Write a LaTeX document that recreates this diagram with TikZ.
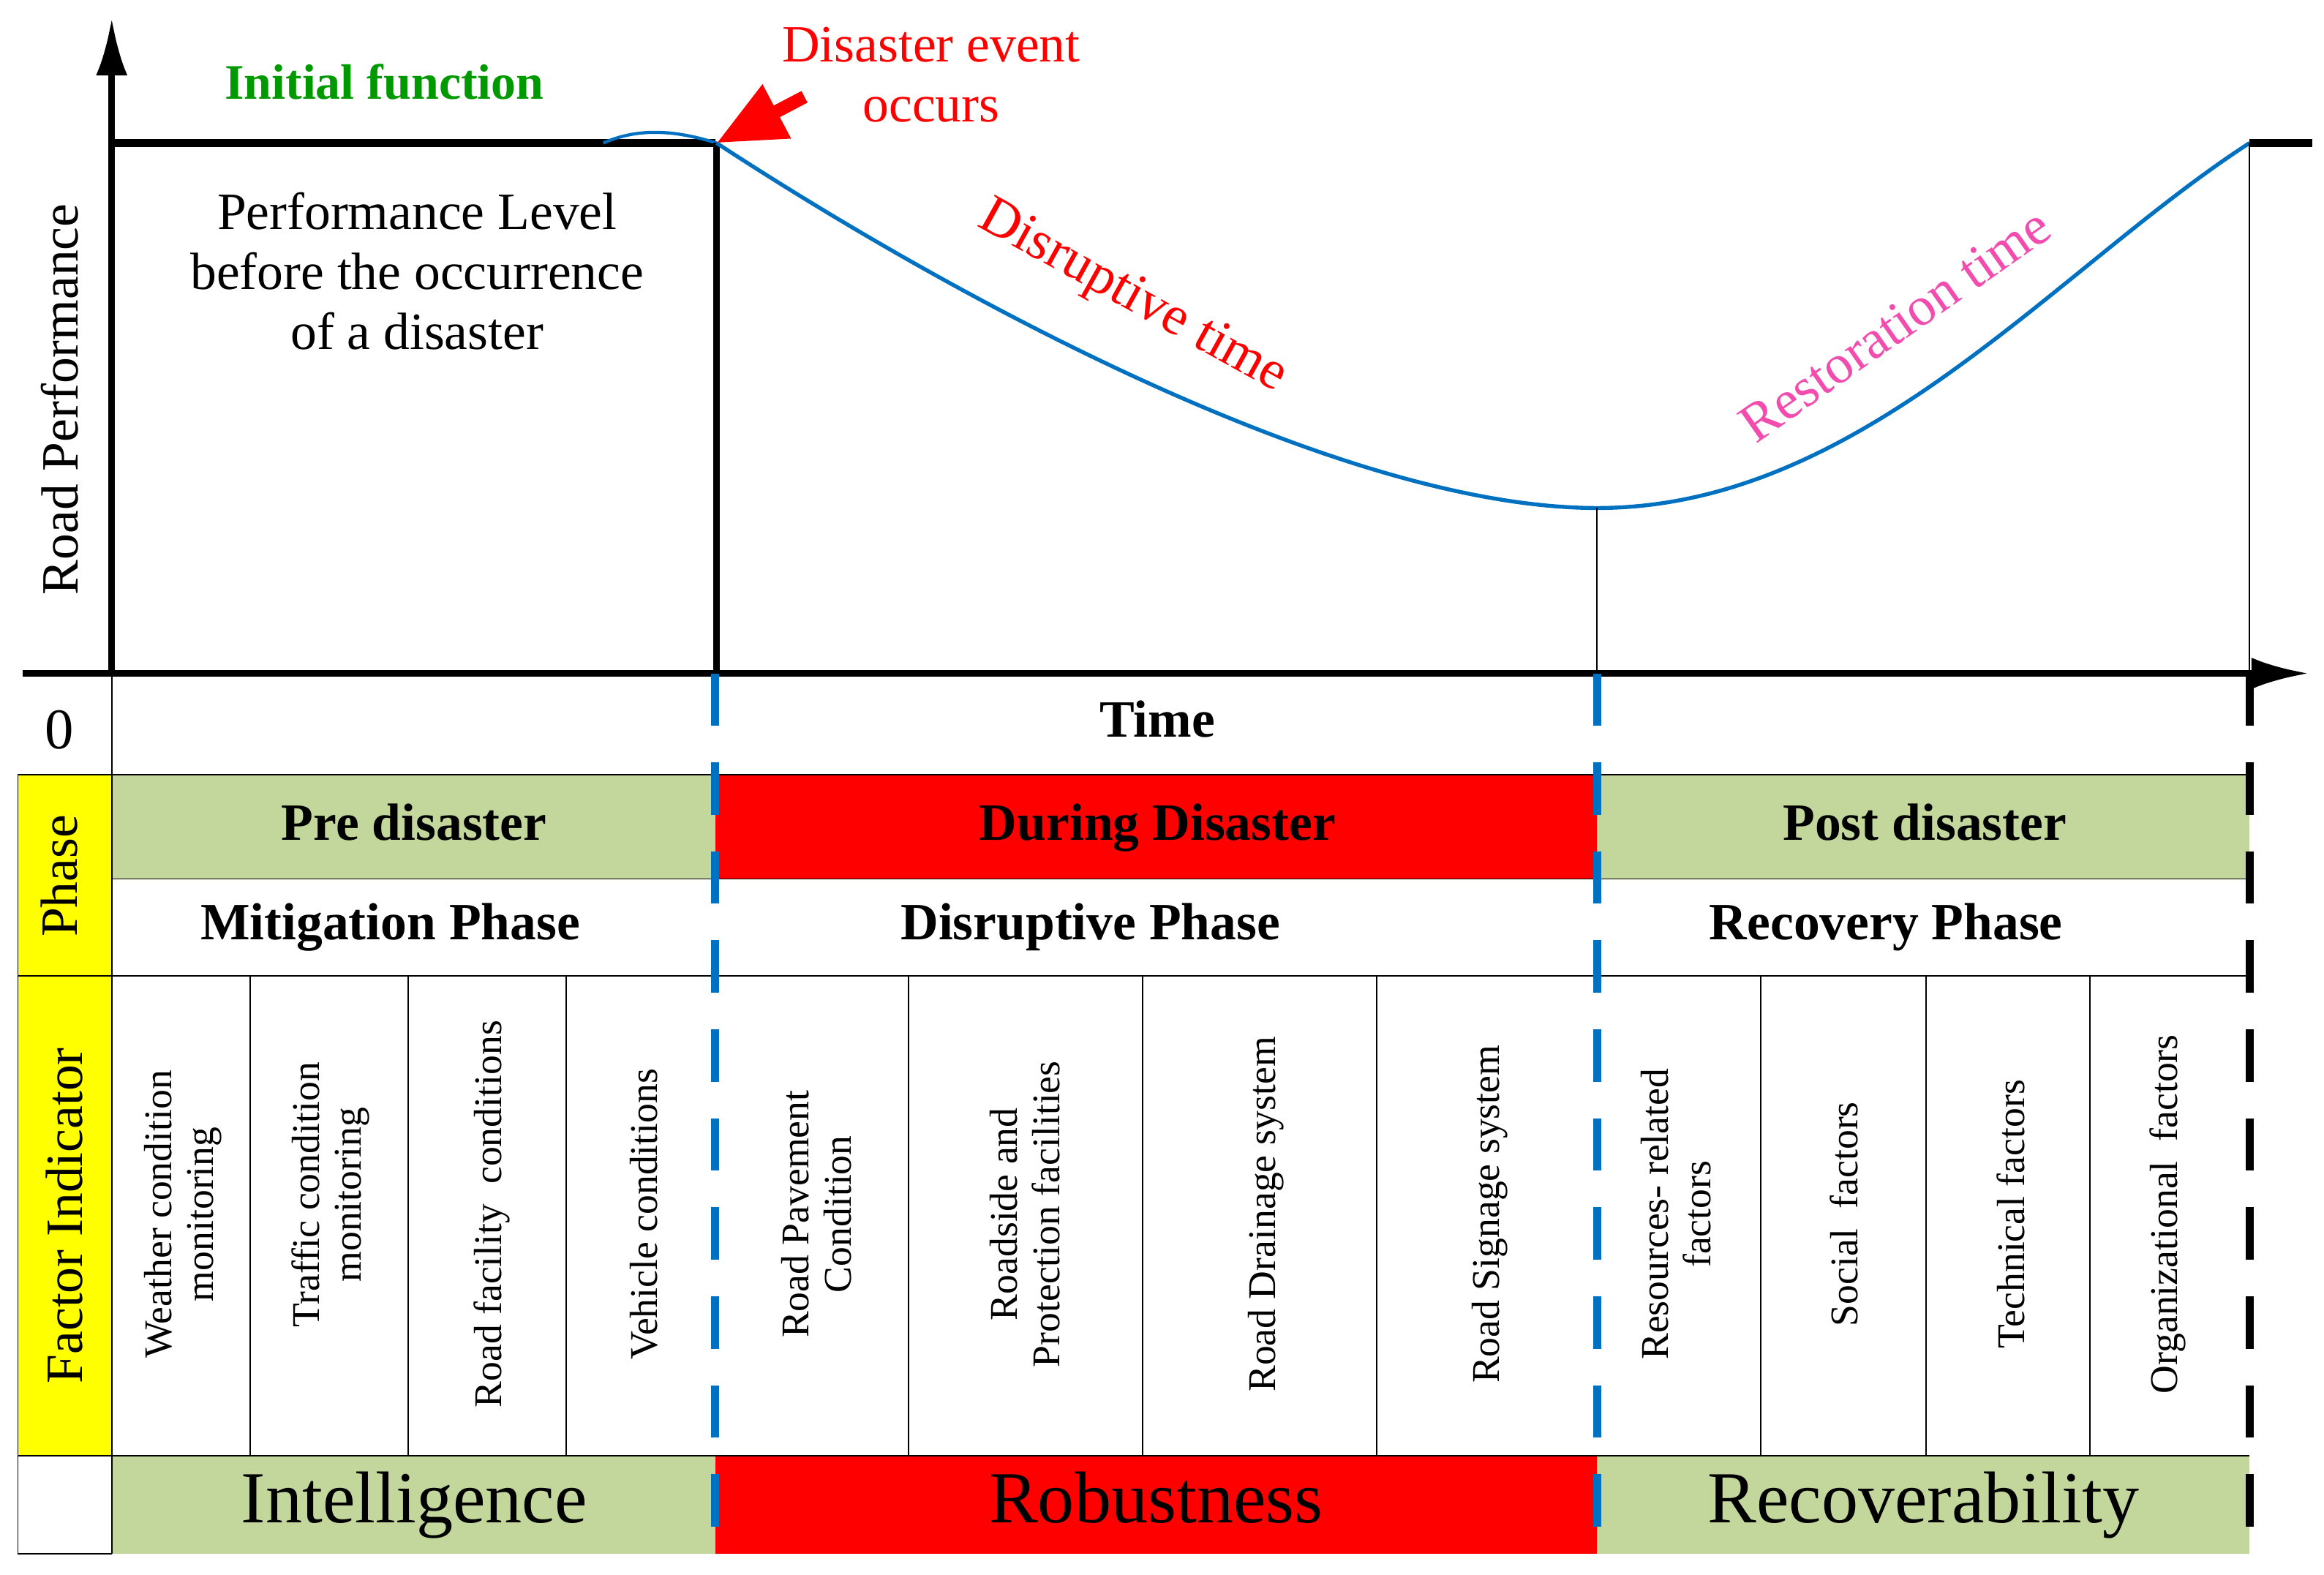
\documentclass[tikz,border=0pt]{standalone}
\usepackage{fontspec}
\setmainfont{Liberation Serif}
\usetikzlibrary{arrows.meta}
\definecolor{gr}{RGB}{195,214,155}
\definecolor{bl}{RGB}{0,112,192}
\definecolor{ye}{RGB}{255,255,0}
\begin{document}
\begin{tikzpicture}[x=0.02cm,y=-0.02cm,
  hd/.style={font=\fontsize{20}{22}\selectfont\bfseries,text height=14pt,text depth=4pt},
  big/.style={font=\fontsize{28}{30}\selectfont,text height=20pt,text depth=6pt},
  vt/.style={rotate=90,font=\fontsize{15}{16}\selectfont,align=center},
  side/.style={rotate=90,font=\fontsize{20}{22}\selectfont},
  thin/.style={line width=0.5pt}]
\useasboundingbox (0,0) rectangle (1560,1057);
% fills
\fill[ye] (12,520) rectangle (75,977);
\fill[gr] (75,520) rectangle (480,590);
\fill[red] (480,520) rectangle (1072,590);
\fill[gr] (1072,520) rectangle (1510,590);
\fill[gr] (75,977) rectangle (480,1043);
\fill[red] (480,977) rectangle (1072,1043);
\fill[gr] (1072,977) rectangle (1510,1043);
% table lines
\draw[thin] (12,520) -- (1510,520);
\draw[thin] (12,520) -- (12,1043) -- (75,1043);
\draw[thin] (75,590) -- (1510,590);
\draw[thin] (12,655) -- (1510,655);
\draw[thin] (12,977) -- (1510,977);
\draw[thin] (75,452) -- (75,1043);
\foreach \x in {168,274,380,610,767,924,1182,1293,1403} \draw[thin] (\x,655) -- (\x,977);
% axes
\draw[line width=2.5pt,-{Latex[length=22pt,width=12pt]}] (75,452) coordinate (o) -- (75,12) coordinate (ytop);
\draw[line width=2.5pt,-{Latex[length=22pt,width=12pt]}] (15,452) -- (1550,452) coordinate (xend);
% curves
\draw[line width=3pt] (75,96) -- (480,96);
\draw[bl,line width=1.2pt] (405,96) .. controls (430,85) and (455,88) .. (481,96);
\draw[line width=2.5pt] (481,96) coordinate (ev) -- (481,452);
\draw[bl,line width=1.5pt] (481,96) .. controls (640,200) and (900,341) .. (1072,341) coordinate (mn)
  .. controls (1250,341) and (1380,180) .. (1510,96) coordinate (rec);
\draw[line width=3pt] (1510,96) -- (1552,96);
\draw[thin] (1072,341) -- (1072,452);
\draw[thin] (1510,96) -- (1510,452);
% dashed
\draw[bl,line width=3pt,dash pattern=on 20pt off 14pt] (480,452) -- (480,1043);
\draw[bl,line width=3pt,dash pattern=on 20pt off 14pt] (1072,452) -- (1072,1043);
\draw[line width=3pt,dash pattern=on 20pt off 14pt] (1510,452) -- (1510,1043);
% arrow
\coordinate (as) at (540,65);
\draw[red,line width=5pt,-{Triangle[length=26pt,width=22pt]}] (as) -- (ev);
% texts
\node[text=green!60!black,font=\fontsize{19}{21}\selectfont\bfseries] (if) at (258,55) {Initial function};
\node[text=red,font=\fontsize{20}{23}\selectfont,align=center] (de) at (625,50) {Disaster event\\occurs};
\node[font=\fontsize{20}{23}\selectfont,align=center] (pl) at (280,182) {Performance Level\\before the occurrence\\of a disaster};
\node[text=red,rotate=-29,font=\fontsize{21}{23}\selectfont] (dt) at (760,200) {Disruptive time};
\node[text=magenta!70,rotate=35,font=\fontsize{21}{23}\selectfont] (rt) at (1272,218) {Restoration time};
\node[side] (rp) at (40,268) {Road Performance};
\node[font=\fontsize{22}{24}\selectfont] (zero) at (40,490) {0};
\node[hd] (tm) at (777,486) {Time};
\node[side,text height=14pt,text depth=4pt] (ph) at (43,588) {Phase};
\node[side] (fi) at (43,816) {Factor Indicator};
\node[hd] (pre) at (278,555) {Pre disaster};
\node[hd] (dur) at (777,555) {During Disaster};
\node[hd] (post) at (1292,555) {Post disaster};
\node[hd] (mp) at (262,622) {Mitigation Phase};
\node[hd] (dp) at (732,622) {Disruptive Phase};
\node[hd] (rcp) at (1266,622) {Recovery Phase};
\node[vt] (f1) at (123,815) {Weather condition\\monitoring};
\node[vt] (f2) at (222,802) {Traffic condition\\monitoring};
\node[vt] (f3) at (330,815) {Road facility\ \ conditions};
\node[vt] (f4) at (432,815) {Vehicle conditions};
\node[vt] (f5) at (548,815) {Road Pavement\\Condition};
\node[vt] (f6) at (688,815) {Roadside and\\Protection facilities};
\node[vt] (f7) at (850,815) {Road Drainage system};
\node[vt] (f8) at (1000,815) {Road Signage system};
\node[vt] (f9) at (1125,815) {Resources- related\\factors};
\node[vt] (f10) at (1238,815) {Social\ \ factors};
\node[vt] (f11) at (1350,815) {Technical factors};
\node[vt] (f12) at (1455,815) {Organizational\ \ factors};
\node[big] (i) at (278,1010) {Intelligence};
\node[big] (r) at (776,1010) {Robustness};
\node[big] (rc) at (1291,1010) {Recoverability};
\end{tikzpicture}
\end{document}
